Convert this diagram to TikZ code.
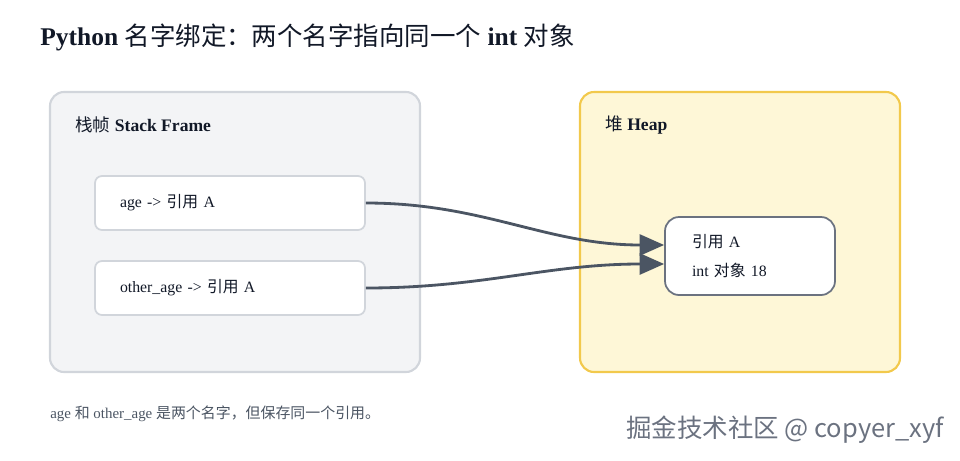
\documentclass[tikz,border=0pt]{standalone}
\usepackage{fontspec}
\setmainfont{Liberation Serif}
\newfontfamily\cjk{Noto Sans CJK SC}
\usetikzlibrary{arrows.meta, positioning}
\definecolor{framefill}{HTML}{F3F4F6}
\definecolor{frameline}{HTML}{D1D5DB}
\definecolor{heapfill}{HTML}{FEF7D7}
\definecolor{heapline}{HTML}{F2C94C}
\definecolor{objline}{HTML}{6B7280}
\definecolor{arrowcol}{HTML}{4B5563}
\definecolor{textcol}{HTML}{111827}
\tikzset{
  region/.style={draw, rounded corners=8pt, line width=1.2pt},
  slot/.style={draw=frameline, fill=white, rounded corners=4pt, line width=1pt,
    minimum width=270*0.02cm, minimum height=54*0.02cm, text width=220*0.02cm,
    align=left, font=\fontsize{9}{11}\selectfont},
  link/.style={draw=arrowcol, line width=1.6pt, -{Triangle[length=14pt,width=12pt]}}
}
\begin{document}
\begin{tikzpicture}[x=0.02cm, y=-0.02cm, text=textcol]
  \useasboundingbox (0,0) rectangle (960,460);

  % title
  \node[anchor=west, inner sep=0pt, font=\fontsize{14.5}{16}\selectfont\bfseries] (title) at (40,37)
    {Python {\cjk\mdseries 名字绑定：两个名字指向同一个} int {\cjk\mdseries 对象}};

  % stack frame
  \draw[region, draw=frameline, fill=framefill] (50,92) rectangle (420,372);
  \node[anchor=west, inner sep=0pt, font=\fontsize{10}{12}\selectfont\bfseries] (stacklabel) at (75,125)
    {{\cjk\mdseries 栈帧} Stack Frame};
  \node[slot] (age) at (230,203) {age -> {\cjk 引用} A};
  \node[slot] (other) at (230,288) {other\_age -> {\cjk 引用} A};

  % heap
  \draw[region, draw=heapline, fill=heapfill] (580,92) rectangle (900,372);
  \node[anchor=west, inner sep=0pt, font=\fontsize{10}{12}\selectfont\bfseries] (heaplabel) at (605,125)
    {{\cjk\mdseries 堆} Heap};
  \node[draw=objline, fill=white, rounded corners=8pt, line width=1pt,
    minimum width=170*0.02cm, minimum height=78*0.02cm, text width=116*0.02cm,
    align=left, font=\fontsize{9}{17}\selectfont] (obj) at (750,256)
    {{\cjk 引用} A\\int {\cjk 对象} 18};

  % references
  \draw[link] (age.east) to[out=0, in=180] ([yshift=11*0.02cm]obj.west);
  \draw[link] (other.east) to[out=0, in=180] ([yshift=-8*0.02cm]obj.west);

  % note
  \node[anchor=west, inner sep=0pt, font=\fontsize{8.5}{10}\selectfont, text=arrowcol] (note) at (50,414)
    {age {\cjk 和} other\_age {\cjk 是两个名字，但保存同一个引用。}};

  % watermark
  \node[anchor=east, inner sep=0pt, font=\cjk\fontsize{14.5}{16}\selectfont, text=objline] (mark) at (944,430)
    {掘金技术社区 @ copyer\_xyf};
\end{tikzpicture}
\end{document}
